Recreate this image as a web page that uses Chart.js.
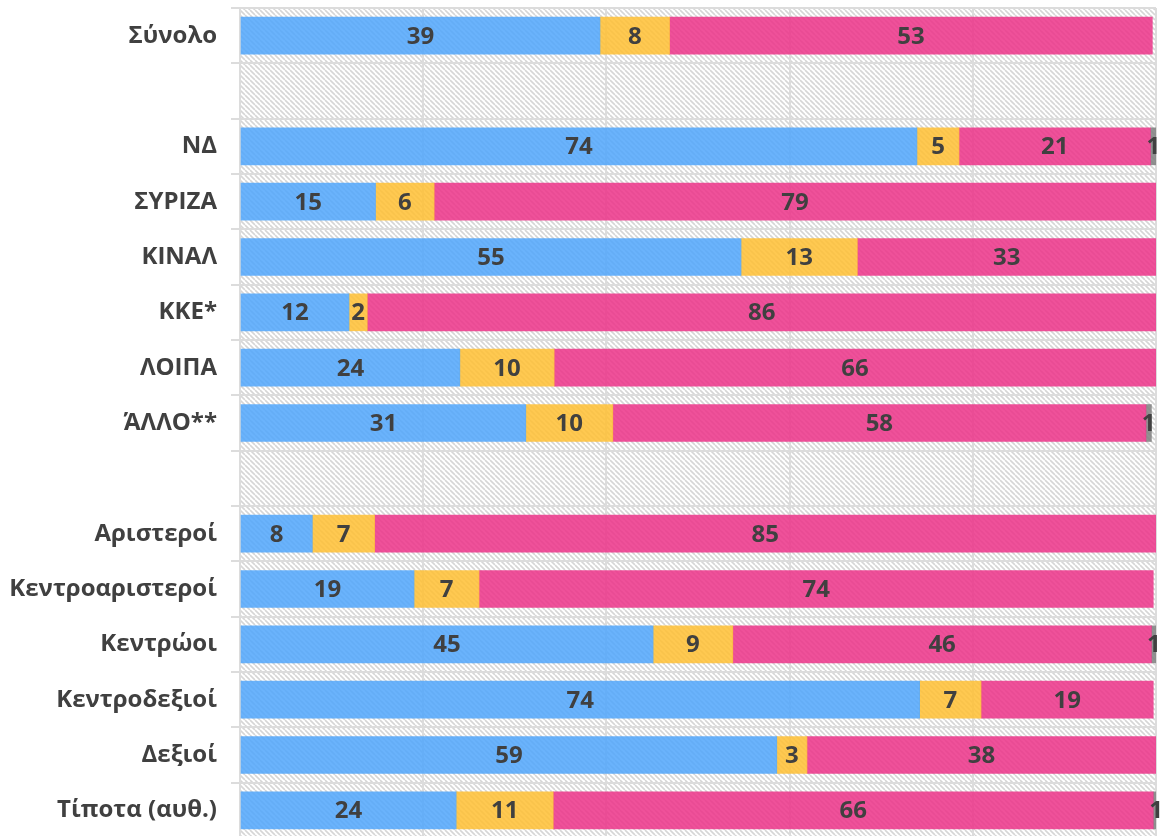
<!DOCTYPE html>
<html>
<head>
<meta charset="utf-8">
<script src="https://cdn.jsdelivr.net/npm/chart.js@4.4.0/dist/chart.umd.min.js"></script>
<style>
  html, body { margin: 0; padding: 0; background: #fff; overflow: hidden; }
  canvas { display: block; }
</style>
</head>
<body>
<canvas id="c" width="1165" height="838"></canvas>
<script>
// ---- data ----
const categories = ['Σύνολο', '', 'ΝΔ', 'ΣΥΡΙΖΑ', 'ΚΙΝΑΛ', 'ΚΚΕ*', 'ΛΟΙΠΑ', 'ΆΛΛΟ**', '',
  'Αριστεροί', 'Κεντροαριστεροί', 'Κεντρώοι', 'Κεντροδεξιοί', 'Δεξιοί', 'Τίποτα (αυθ.)'];
const seriesBlue   = [39.3, null, 73.9, 14.8, 54.7, 11.9, 24.0, 31.2, null, 7.9, 19.0, 45.1, 74.2, 58.6, 23.6];
const seriesYellow = [7.6, null, 4.6, 6.4, 12.7, 2.0, 10.3, 9.5, null, 6.8, 7.1, 8.7, 6.7, 3.3, 10.6];
const seriesPink   = [52.7, null, 20.9, 78.8, 32.6, 86.1, 65.7, 58.2, null, 85.3, 73.6, 45.7, 18.8, 38.1, 65.5];
const seriesGray   = [null, null, 0.6, null, null, null, null, 0.6, null, null, null, 0.55, null, null, 0.6];
const xTicks = [0, 20, 40, 60, 80, 100];

// ---- patterns ----
function hatch(bg, fg, size, lw) {
  const c = document.createElement('canvas');
  c.width = c.height = size;
  const x = c.getContext('2d');
  x.fillStyle = bg; x.fillRect(0, 0, size, size);
  x.strokeStyle = fg; x.lineWidth = lw;
  x.beginPath();
  for (const off of [-size, 0, size]) { x.moveTo(off, 0); x.lineTo(off + size, size); }
  x.stroke();
  return x.createPattern(c, 'repeat');
}
const bgPattern = hatch('#ffffff', '#d6d6d6', 5, 1.6);

const areaBg = {
  id: 'areaBg',
  beforeDraw(chart) {
    const { ctx, chartArea: a } = chart;
    ctx.save();
    ctx.fillStyle = bgPattern;
    ctx.fillRect(a.left, a.top, a.right - a.left, a.bottom - a.top);
    ctx.restore();
  }
};

const valueLabels = {
  id: 'valueLabels',
  afterDatasetsDraw(chart) {
    const ctx = chart.ctx;
    ctx.save();
    ctx.font = 'bold 24px "Open Sans"';
    ctx.fillStyle = '#404040';
    ctx.textAlign = 'center';
    ctx.textBaseline = 'middle';
    chart.data.datasets.forEach((ds, i) => {
      const meta = chart.getDatasetMeta(i);
      meta.data.forEach((el, j) => {
        const v = ds.data[j];
        if (v === null || v === undefined) return;
        const cx = (el.x + el.base) / 2;
        ctx.fillText(String(Math.round(v)), cx, el.y + 1);
      });
    });
    ctx.restore();
  }
};

const gridColor = '#dcdcdc';

new Chart(document.getElementById('c'), {
  type: 'bar',
  data: {
    labels: categories,
    datasets: [
      { data: seriesBlue,   backgroundColor: 'rgba(82,167,251,0.86)' },
      { data: seriesYellow, backgroundColor: 'rgba(255,192,52,0.86)' },
      { data: seriesPink,   backgroundColor: 'rgba(236,52,137,0.86)' },
      { data: seriesGray,   backgroundColor: 'rgba(128,128,128,0.86)' }
    ]
  },
  options: {
    indexAxis: 'y',
    responsive: false,
    animation: false,
    events: [],
    layout: { padding: { top: 8, right: 9, left: 0, bottom: 0 } },
    datasets: { bar: { barThickness: 37 } },
    plugins: { legend: { display: false }, tooltip: { enabled: false } },
    scales: {
      x: {
        stacked: true, min: 0, max: 100,
        afterBuildTicks(scale) { scale.ticks = xTicks.map(v => ({ value: v })); },
        afterFit(scale) { scale.height = 0; scale.paddingLeft = 0; scale.paddingRight = 0; },
        ticks: { display: false },
        grid: { color: gridColor, lineWidth: 2, drawTicks: false },
        border: { display: false }
      },
      y: {
        stacked: true,
        afterFit(scale) { scale.width = 240; scale.paddingTop = 0; scale.paddingBottom = 0; },
        ticks: { color: '#404040', font: { family: 'Open Sans', weight: 'bold', size: 24 }, padding: 14, autoSkip: false },
        grid: { color: gridColor, lineWidth: 2, tickLength: 9, offset: true },
        border: { color: gridColor, width: 2 }
      }
    }
  },
  plugins: [areaBg, valueLabels]
});
</script>
</body>
</html>
